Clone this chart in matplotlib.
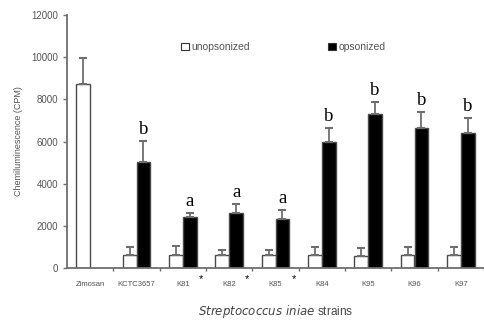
import matplotlib
matplotlib.use("Agg")
from matplotlib import pyplot as plt
from matplotlib.patches import Patch
import numpy as np

strains = ['Zimosan', 'KCTC3657', 'K81', 'K82', 'K85', 'K84', 'K95', 'K96', 'K97']
unops = [8730, 610, 620, 620, 610, 600, 590, 600, 600]
unops_err = [1250, 380, 400, 240, 250, 390, 360, 380, 390]
ops = [np.nan, 5010, 2440, 2620, 2310, 5990, 7290, 6660, 6420]
ops_err = [np.nan, 1020, 190, 400, 420, 670, 570, 760, 680]
letters = ['', 'b', 'a', 'a', 'a', 'b', 'b', 'b', 'b']
starred = ['K81', 'K82', 'K85']

plt.rcParams['font.family'] = ['Liberation Sans', 'DejaVu Sans']

fig = plt.figure(figsize=(4.84, 3.24), dpi=100)
ax = fig.add_axes([67 / 484, 56 / 324, 417 / 484, 253 / 324])

x = np.arange(len(strains))
w = 0.30
gray = '#6e6e6e'
ax.bar(x - w / 2, unops, w, color='white', edgecolor='#4a4a4a', linewidth=1.0)
ax.bar(x + w / 2, ops, w, color='black', edgecolor='#4a4a4a', linewidth=1.0)
ax.errorbar(x - w / 2, unops, yerr=[np.zeros(len(x)), unops_err], fmt='none',
            ecolor=gray, elinewidth=1.3, capsize=3, capthick=1.5)
ax.errorbar(x + w / 2, ops, yerr=[np.zeros(len(x)), ops_err], fmt='none',
            ecolor=gray, elinewidth=1.3, capsize=3, capthick=1.5)

for i, lab in enumerate(letters):
    if lab:
        ax.text(x[i] + w / 2, ops[i] + ops_err[i] + 330, lab, ha='center',
                va='baseline', fontsize=13.5, family='Liberation Serif')

ax.set_xlim(-0.5, -0.5 + 417 / 47)
ax.set_ylim(0, 12000)
ax.set_yticks(range(0, 12001, 2000))
ax.set_xticks(x)
ax.set_xticklabels(strains, fontsize=5.5, color='#555555')
ax.set_xticks(np.arange(0.5, 8.6, 1), minor=True)
ax.tick_params(axis='x', which='major', length=0, pad=9)
ax.tick_params(axis='x', which='minor', length=2, color=gray, width=1)
ax.tick_params(axis='y', labelsize=7, labelcolor='#555555', length=3, color=gray, width=1)

for i, s in enumerate(strains):
    if s in starred:
        ax.annotate('*', xy=(x[i], 0), xytext=(18, -11), textcoords='offset pixels',
                    xycoords=('data', 'axes fraction'), ha='center', va='center',
                    fontsize=8)

for side in ['top', 'right']:
    ax.spines[side].set_visible(False)
for side in ['left', 'bottom']:
    ax.spines[side].set_color(gray)
    ax.spines[side].set_linewidth(1.3)

ax.set_ylabel('Chemiluminescence (CPM)', fontsize=6.5, color='#555555', labelpad=6)
ax.set_xlabel(r'$\it{Streptococcus\ iniae}$ strains', fontsize=8.5, color='#444444', labelpad=11)

handles = [Patch(facecolor='white', edgecolor='#333333', linewidth=0.8),
           Patch(facecolor='black', edgecolor='#333333', linewidth=0.8)]
fig.legend(handles, ['unopsonized', 'opsonized'], loc='center left',
           bbox_to_anchor=(176 / 484, 1 - 47 / 324), ncol=2, frameon=False,
           fontsize=7.5, handlelength=0.7, handleheight=0.7, handletextpad=0.3,
           columnspacing=7.5, borderpad=0, labelcolor='#555555')

fig.savefig('out.png', dpi=100)
